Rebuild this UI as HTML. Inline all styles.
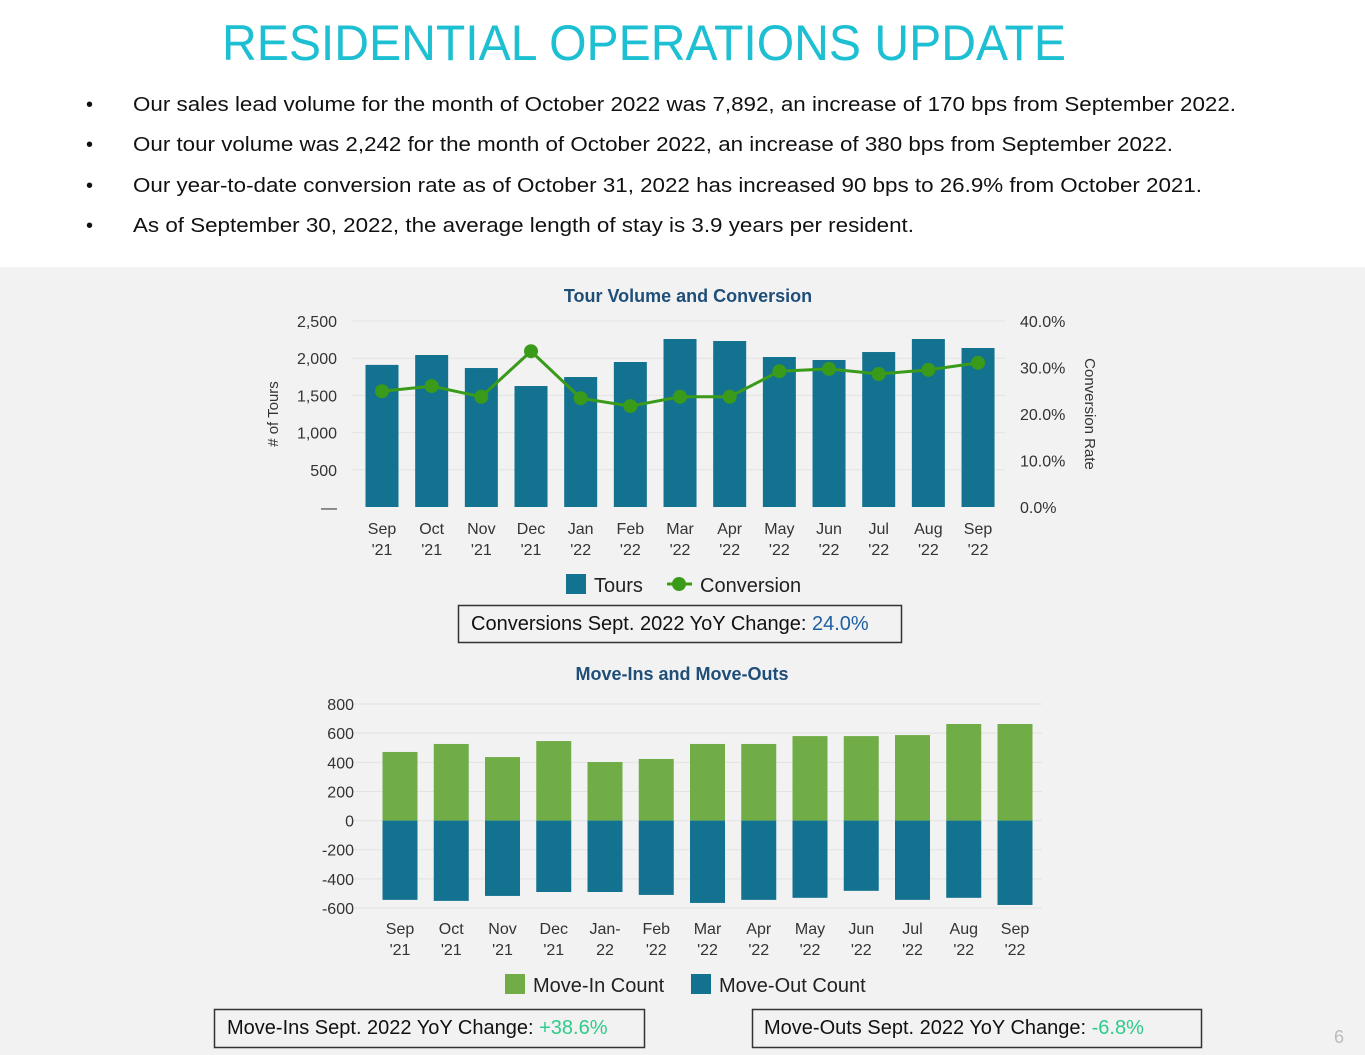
<!DOCTYPE html>
<html><head><meta charset="utf-8"><style>
html,body{margin:0;padding:0;background:#fff}
svg{display:block}
text{font-family:"Liberation Sans",sans-serif}
.n{font-family:"Liberation Sans Narrow","Liberation Sans",sans-serif}
</style></head><body>
<svg id="s" width="1365" height="1055" viewBox="0 0 1365 1055" xmlns="http://www.w3.org/2000/svg">
<rect x="0" y="0" width="1365" height="1055" fill="#ffffff"/>
<rect x="0" y="267" width="1365" height="788" fill="#f2f2f2"/>
<text x="222" y="60" font-size="50" fill="#1dbfd2" textLength="844" lengthAdjust="spacingAndGlyphs">RESIDENTIAL OPERATIONS UPDATE</text>
<g font-size="20" fill="#111">
<text x="86" y="111">•</text><text x="133" y="111" textLength="1103" lengthAdjust="spacingAndGlyphs">Our sales lead volume for the month of October 2022 was 7,892, an increase of 170 bps from September 2022.</text>
<text x="86" y="151">•</text><text x="133" y="151" textLength="1040" lengthAdjust="spacingAndGlyphs">Our tour volume was 2,242 for the month of October 2022, an increase of 380 bps from September 2022.</text>
<text x="86" y="192">•</text><text x="133" y="192" textLength="1069" lengthAdjust="spacingAndGlyphs">Our year-to-date conversion rate as of October 31, 2022 has increased 90 bps to 26.9% from October 2021.</text>
<text x="86" y="232">•</text><text x="133" y="232" textLength="781" lengthAdjust="spacingAndGlyphs">As of September 30, 2022, the average length of stay is 3.9 years per resident.</text>
</g>
<text class="n" x="688" y="302" font-size="18" font-weight="bold" fill="#1f4e79" text-anchor="middle">Tour Volume and Conversion</text>
<g id="c1"></g>
<g>
<rect x="566" y="574" width="20" height="20" fill="#13728f"/>
<text class="n" x="594" y="592" font-size="20" fill="#222">Tours</text>
<line x1="667" y1="584" x2="692" y2="584" stroke="#3a9a1a" stroke-width="3"/>
<circle cx="679" cy="584" r="7" fill="#3a9a1a"/>
<text class="n" x="700" y="592" font-size="20" fill="#222">Conversion</text>
</g>
<g>
<rect x="458.5" y="605.5" width="443" height="37" fill="#f2f2f2" stroke="#333" stroke-width="1.5"/>
<text class="n" x="471" y="630" font-size="20" fill="#111">Conversions Sept. 2022 YoY Change: <tspan fill="#1f5f9f">24.0%</tspan></text>
</g>
<text class="n" x="682" y="680" font-size="18" font-weight="bold" fill="#1f4e79" text-anchor="middle">Move-Ins and Move-Outs</text>
<g id="c2"></g>
<g>
<rect x="505" y="974" width="20" height="20" fill="#70ad47"/>
<text class="n" x="533" y="992" font-size="20" fill="#222">Move-In Count</text>
<rect x="691" y="974" width="20" height="20" fill="#13728f"/>
<text class="n" x="719" y="992" font-size="20" fill="#222">Move-Out Count</text>
</g>
<g>
<rect x="214.5" y="1009.5" width="430" height="38" fill="#f2f2f2" stroke="#333" stroke-width="1.5"/>
<text class="n" x="227" y="1034" font-size="20" fill="#111">Move-Ins Sept. 2022 YoY Change:  <tspan fill="#2ecc8a">+38.6%</tspan></text>
</g>
<g>
<rect x="752.5" y="1009.5" width="449" height="38" fill="#f2f2f2" stroke="#333" stroke-width="1.5"/>
<text class="n" x="764" y="1034" font-size="20" fill="#111">Move-Outs Sept. 2022 YoY Change:  <tspan fill="#2ecc8a">-6.8%</tspan></text>
</g>
<text x="1339" y="1043" font-size="18" fill="#bbb" text-anchor="middle">6</text>
</svg>
<script>
var months1 = ["Sep|'21","Oct|'21","Nov|'21","Dec|'21","Jan|'22","Feb|'22","Mar|'22","Apr|'22","May|'22","Jun|'22","Jul|'22","Aug|'22","Sep|'22"];
var tours = [1910,2043,1868,1626,1747,1949,2258,2231,2016,1976,2083,2258,2137];
var conversion = [24.9,26.0,23.7,33.5,23.4,21.7,23.7,23.7,29.2,29.7,28.6,29.5,31.0];
var tourTicks = ["—","500","1,000","1,500","2,000","2,500"];
var tourTickVals = [0,500,1000,1500,2000,2500];
var rateTicks = ["0.0%","10.0%","20.0%","30.0%","40.0%"];
var rateTickVals = [0,10,20,30,40];
var months2 = ["Sep|'21","Oct|'21","Nov|'21","Dec|'21","Jan-|22","Feb|'22","Mar|'22","Apr|'22","May|'22","Jun|'22","Jul|'22","Aug|'22","Sep|'22"];
var moveIns = [471,526,436,546,402,423,526,526,580,580,587,663,663];
var moveOuts = [-544,-551,-517,-490,-490,-510,-565,-544,-530,-482,-544,-530,-579];
var moveTickVals = [-600,-400,-200,0,200,400,600,800];

var NS="http://www.w3.org/2000/svg";
function mk(p,t,a){var e=document.createElementNS(NS,t);for(var k in a)e.setAttribute(k,a[k]);p.appendChild(e);return e;}

// chart 1
var c1=document.getElementById('c1');


function y1(v){return 507-v/2500*186;}
function y1r(v){return 507-v/40*186;}
function x1(i){return 382+i*49.67;}
tourTickVals.forEach(function(v,i){
  if(v>0){var g=mk(c1,'line',{x1:352,x2:1005,y1:y1(v),y2:y1(v),stroke:'#e3e3e3','stroke-width':1});
  
  }
  var t=mk(c1,'text',{x:337,y:y1(v)+6,'font-size':16,fill:'#333','text-anchor':'end','class':'n'});
  
  
  t.textContent=tourTicks[i];
});
rateTickVals.forEach(function(v,i){
  var t=mk(c1,'text',{x:1020,y:y1r(v)+6,'font-size':16,fill:'#333','class':'n'});
  
  
  t.textContent=rateTicks[i];
});
var yt=mk(c1,'text',{x:0,y:0,'font-size':15,fill:'#333',transform:'translate(278,414) rotate(-90)','text-anchor':'middle'});


yt.textContent='# of Tours';
var yt2=mk(c1,'text',{x:0,y:0,'font-size':15,fill:'#333',transform:'translate(1085,414) rotate(90)','text-anchor':'middle'});


yt2.textContent='Conversion Rate';
tours.forEach(function(v,i){
  var r=mk(c1,'rect',{x:x1(i)-16.5,y:y1(v),width:33,height:507-y1(v),fill:'#13728f'});
  
  
  var p=months1[i].split('|');
  var a=mk(c1,'text',{x:x1(i),y:534,'font-size':16,fill:'#333','text-anchor':'middle','class':'n'});
  
  
  a.textContent=p[0];
  var b=mk(c1,'text',{x:x1(i),y:555,'font-size':16,fill:'#333','text-anchor':'middle','class':'n'});
  
  
  b.textContent=p[1];
});
var pts=conversion.map(function(v,i){return x1(i)+','+y1r(v);}).join(' ');
var pl=mk(c1,'polyline',{points:pts,fill:'none',stroke:'#3a9a1a','stroke-width':3});


conversion.forEach(function(v,i){
  var c=mk(c1,'circle',{cx:x1(i),cy:y1r(v),r:7,fill:'#3a9a1a'});
  
  
});

// chart 2
var c2=document.getElementById('c2');


function y2(v){return 820.6-v*204/1400;}
function x2(i){return 400+i*51.25;}
moveTickVals.forEach(function(v){
  var g=mk(c2,'line',{x1:352,x2:1042,y1:y2(v),y2:y2(v),stroke:'#e3e3e3','stroke-width':1});
  
  
  var t=mk(c2,'text',{x:354,y:y2(v)+6,'font-size':16,fill:'#333','text-anchor':'end','class':'n'});
  
  
  t.textContent=String(v);
});
moveIns.forEach(function(v,i){
  var r=mk(c2,'rect',{x:x2(i)-17.5,y:y2(v),width:35,height:y2(0)-y2(v),fill:'#70ad47'});
  
  
  var o=moveOuts[i];
  var r2=mk(c2,'rect',{x:x2(i)-17.5,y:y2(0),width:35,height:y2(o)-y2(0),fill:'#13728f'});
  
  
  var p=months2[i].split('|');
  var a=mk(c2,'text',{x:x2(i),y:934,'font-size':16,fill:'#333','text-anchor':'middle','class':'n'});
  
  
  a.textContent=p[0];
  var b=mk(c2,'text',{x:x2(i),y:955,'font-size':16,fill:'#333','text-anchor':'middle','class':'n'});
  
  
  b.textContent=p[1];
});
</script>
</body></html>
